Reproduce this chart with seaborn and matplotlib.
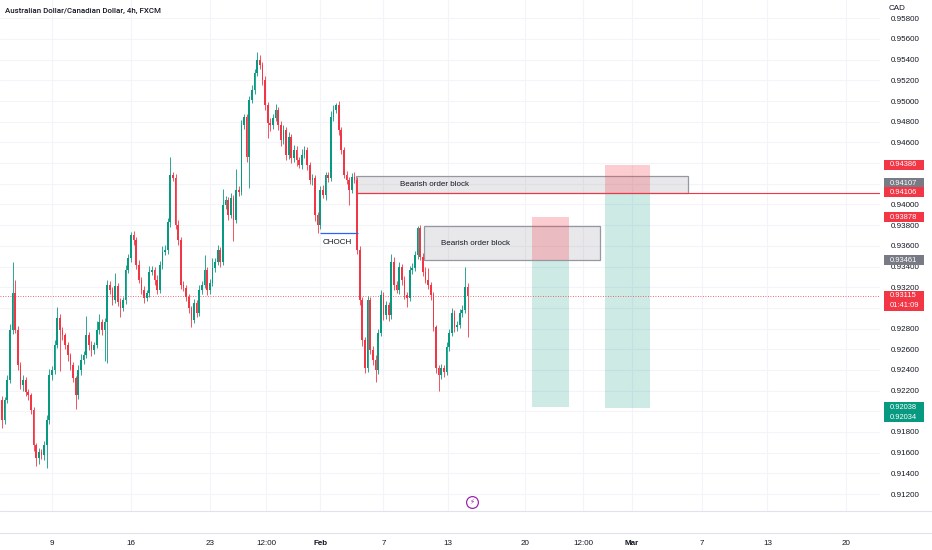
import numpy as np
import pandas as pd
import matplotlib
matplotlib.use("Agg")
import matplotlib.pyplot as plt
import seaborn as sns
from matplotlib.patches import Rectangle
from matplotlib.lines import Line2D
from matplotlib.transforms import IdentityTransform
from matplotlib.colors import to_rgba

# ---- data (AUD/CAD 4h) ----
first_open = 0.92109
closes = [
    0.91916, 0.92109, 0.92302, 0.92786, 0.93144, 0.92786, 0.92447, 0.92254, 0.92302, 0.92186,
    0.92157, 0.92012, 0.91674, 0.91548, 0.91606, 0.91577, 0.91674, 0.91916, 0.92351, 0.92399,
    0.92641, 0.92902, 0.92786, 0.92738, 0.92641, 0.92544, 0.92447, 0.92322, 0.92157, 0.92399,
    0.92496, 0.92544, 0.92738, 0.92641, 0.92593, 0.92641, 0.92786, 0.92863, 0.92786, 0.92863,
    0.93221, 0.93173, 0.93076, 0.93211, 0.93057, 0.92999, 0.93076, 0.93366, 0.93482, 0.93705,
    0.93656, 0.93414, 0.93269, 0.93173, 0.93095, 0.93144, 0.93347, 0.93366, 0.93269, 0.93173,
    0.93414, 0.93540, 0.93560, 0.93830, 0.94285, 0.94256, 0.93801, 0.93656, 0.93221, 0.93192,
    0.93105, 0.92999, 0.92883, 0.93047, 0.92950, 0.93173, 0.93221, 0.93366, 0.93173, 0.93240,
    0.93385, 0.93444, 0.93560, 0.93444, 0.93995, 0.94043, 0.93898, 0.94062, 0.93850, 0.94140,
    0.94120, 0.94768, 0.94846, 0.94459, 0.95010, 0.95107, 0.95271, 0.95397, 0.95348, 0.95203,
    0.94962, 0.94788, 0.94768, 0.94836, 0.94913, 0.94768, 0.94623, 0.94720, 0.94478, 0.94652,
    0.94449, 0.94527, 0.94430, 0.94381, 0.94478, 0.94527, 0.94381, 0.94236, 0.94256, 0.93898,
    0.93801, 0.94140, 0.94091, 0.94285, 0.94256, 0.94846, 0.94913, 0.94962, 0.94720, 0.94527,
    0.94285, 0.94236, 0.94140, 0.94265, 0.94236, 0.93560, 0.93076, 0.92689, 0.92419, 0.93076,
    0.92593, 0.92496, 0.92399, 0.92757, 0.93124, 0.92931, 0.93028, 0.92931, 0.93444, 0.93221,
    0.93173, 0.93395, 0.93269, 0.93124, 0.93095, 0.93366, 0.93385, 0.93511, 0.93772, 0.93492,
    0.93347, 0.93269, 0.93221, 0.93124, 0.92815, 0.92419, 0.92351, 0.92419, 0.92380, 0.92622,
    0.92757, 0.92950, 0.92815, 0.92834, 0.92950, 0.92979, 0.93202, 0.93115,
]
# wick lengths in pips above / below the body
up_wick = [
    4, 3, 5, 6, 30, 13, 4, 3, 5, 3,
    3, 2, 3, 2, 4, 3, 4, 5, 6, 4,
    5, 11, 4, 3, 2, 3, 2, 3, 2, 5,
    6, 4, 18, 3, 4, 3, 9, 8, 3, 4,
    5, 4, 3, 13, 3, 4, 3, 5, 4, 3,
    4, 3, 5, 3, 4, 3, 6, 4, 3, 5,
    4, 6, 5, 4, 17, 3, 4, 5, 3, 4,
    3, 3, 2, 4, 3, 5, 4, 15, 3, 4,
    10, 4, 5, 3, 15, 4, 3, 5, 3, 20,
    4, 5, 3, 3, 4, 5, 4, 8, 5, 3,
    4, 3, 5, 4, 6, 3, 4, 5, 3, 5,
    3, 5, 4, 3, 6, 4, 3, 3, 4, 3,
    3, 4, 5, 3, 3, 6, 5, 2, 4, 3,
    3, 4, 3, 4, 5, 3, 4, 3, 3, 4,
    3, 4, 5, 4, 5, 3, 4, 3, 8, 5,
    4, 5, 3, 4, 3, 4, 5, 4, 2, 3,
    4, 5, 12, 3, 3, 2, 3, 4, 3, 5,
    4, 5, 3, 4, 4, 5, 19, 4,
]
down_wick = [
    8, 4, 3, 3, 4, 3, 5, 4, 6, 4,
    5, 4, 6, 8, 6, 4, 5, 22, 4, 5,
    4, 3, 40, 5, 4, 6, 5, 4, 13, 4,
    5, 4, 3, 5, 6, 4, 3, 4, 5, 30,
    40, 4, 5, 3, 4, 9, 3, 4, 3, 4,
    5, 4, 3, 4, 5, 3, 4, 3, 5, 4,
    3, 4, 3, 4, 5, 3, 4, 5, 4, 3,
    4, 5, 7, 3, 4, 3, 4, 3, 5, 4,
    3, 4, 3, 5, 3, 4, 5, 3, 20, 3,
    4, 3, 4, 5, 30, 3, 4, 3, 4, 5,
    5, 15, 6, 4, 3, 5, 6, 4, 5, 4,
    5, 4, 6, 3, 4, 3, 5, 4, 5, 6,
    8, 4, 3, 5, 4, 3, 4, 3, 5, 4,
    3, 4, 15, 3, 3, 4, 5, 6, 5, 4,
    4, 5, 12, 4, 3, 5, 4, 6, 4, 5,
    3, 4, 5, 4, 9, 3, 4, 3, 4, 3,
    4, 3, 4, 5, 4, 5, 15, 4, 5, 3,
    4, 3, 5, 4, 3, 4, 3, 40,
]

tick_labels = ["9", "16", "23", "12:00", "Feb", "7", "13", "20", "12:00", "Mar", "7", "13", "20"]
tick_bars = [19, 49, 79, 100.5, 121, 145, 169.5, 199, 221, 239.5, 266, 291, 321]
# price scale levels covered by the price tags
hidden_levels = [0.944, 0.942, 0.930, 0.920]

# drawings: (bar from, bar to, price low, price high)
short1_stop = (201.5, 215.6, 0.93461, 0.93878)
short1_target = (201.5, 215.6, 0.92038, 0.93461)
short2_stop = (229.3, 246.4, 0.94106, 0.94386)
short2_target = (229.3, 246.4, 0.92034, 0.94106)
order_block1 = (134.6, 260.8, 0.94107, 0.94280)
order_block2 = (160.5, 227.4, 0.93461, 0.93792)
choch_level = 0.93724
choch_span = (120.9, 135.4)
last_price = 0.93115
ob_line = 0.94106

UP = "#089981"
DN = "#f23645"
GRAY = "#787b86"
TXT = "#131722"

opens = [first_open] + closes[:-1]
df = pd.DataFrame({"bar": np.arange(len(closes)), "open": opens, "close": closes,
                   "up": up_wick, "dn": down_wick})
df["high"] = df[["open", "close"]].max(axis=1) + df["up"] * 0.0001
df["low"] = df[["open", "close"]].min(axis=1) - df["dn"] * 0.0001

sns.set_theme(style="white")
plt.rcParams["font.family"] = ["Liberation Sans", "DejaVu Sans"]

fig = plt.figure(figsize=(9.32, 5.5), dpi=100)
ax = fig.add_axes([0, 39 / 550, 880 / 932, 511 / 550])

colors = np.where(df["close"] >= df["open"], UP, DN)
ax.vlines(df["bar"], df["low"], df["high"], colors=colors, lw=0.6, zorder=3)
body_lo = np.minimum(df["open"], df["close"])
body_h = np.maximum((df["close"] - df["open"]).abs(), 0.00003)
ax.bar(df["bar"], body_h, bottom=body_lo, width=0.65, color=colors, lw=0, zorder=4)


def zone(spec, color, alpha, z=1):
    x0, x1, y0, y1 = spec
    ax.add_patch(Rectangle((x0, y0), x1 - x0, y1 - y0, fc=to_rgba(color, alpha), lw=0, zorder=z))


zone(short1_target, UP, 0.2)
zone(short1_stop, DN, 0.25, z=2.5)
zone(short2_target, UP, 0.2)
zone(short2_stop, DN, 0.25, z=2.5)

for ob in (order_block1, order_block2):
    x0, x1, y0, y1 = ob
    ax.add_patch(Rectangle((x0, y0), x1 - x0, y1 - y0, fc=to_rgba(GRAY, 0.17),
                           ec="#9598a1", lw=0.9, zorder=2))
ax.text(151.3, (order_block1[2] + order_block1[3]) / 2, "Bearish order block",
        fontsize=5.8, color=TXT, va="center", ha="left", zorder=6)
ax.text(166.9, (order_block2[2] + order_block2[3]) / 2, "Bearish order block",
        fontsize=5.8, color=TXT, va="center", ha="left", zorder=6)

ax.hlines(choch_level, *choch_span, color="#2962ff", lw=0.9, zorder=5)
ax.text(sum(choch_span) / 2 - 0.8, choch_level - 0.00055, "CHOCH", fontsize=5.8,
        color=TXT, ha="center", va="top", zorder=6)

ax.hlines(ob_line, order_block1[0], 333.8, color=DN, lw=0.8, zorder=5)
ax.axhline(last_price, color=DN, lw=0.6, ls=(0, (1, 2)), zorder=2)

# event marker on the time line
ax.plot([178.7], [0.91127], marker="o", ms=8.5, mfc="white", mec="#9c27b0", mew=0.9,
        zorder=6, clip_on=False)
ax.text(178.7, 0.91127, "\u26a1", fontsize=5, color="#9c27b0", ha="center", va="center",
        zorder=7, family=["DejaVu Sans"])

ax.set_xlim(-0.76, 333.8)
ax.set_ylim(0.91036, 0.95977)

yt = np.arange(0.912, 0.9581, 0.002)
ax.yaxis.tick_right()
ax.set_yticks(yt)
ax.set_yticklabels(["" if np.isclose(v, hidden_levels).any() else f"{v:.5f}" for v in yt])
ax.tick_params(axis="y", length=0, pad=8, labelsize=5.8, labelcolor=TXT)
ax.set_xticks(tick_bars, tick_labels)
ax.tick_params(axis="x", length=0, pad=21, labelsize=5.8, labelcolor=TXT)
for lab in ax.get_xticklabels():
    if lab.get_text() in ("Feb", "Mar"):
        lab.set_fontweight("bold")
ax.grid(True, color="#f2f4f9", lw=0.8)
ax.set_axisbelow(True)
for s in ax.spines.values():
    s.set_visible(False)

for ypx in (511, 533):
    fig.add_artist(Line2D([0, 1], [1 - ypx / 550] * 2, transform=fig.transFigure,
                          color="#e0e3eb", lw=0.8))

# price tags on the right scale
ident = IdentityTransform()
ROW = 10.0


def tag(price, lines, color, shift_px=0):
    yd = ax.transData.transform((0, price))[1] + shift_px
    h = ROW * len(lines)
    top = yd + ROW / 2
    fig.add_artist(Rectangle((884, top - h), 40, h, fc=color, ec="none",
                             transform=ident, zorder=10))
    for k, s in enumerate(lines):
        fig.text(890, top - ROW / 2 - ROW * k, s, fontsize=5.4, color="white",
                 va="center", ha="left", transform=ident, zorder=11)


tag(0.94386, ["0.94386"], DN)
tag(0.94107, ["0.94107"], GRAY, shift_px=10)
tag(0.94106, ["0.94106"], DN, shift_px=1)
tag(0.93878, ["0.93878"], DN)
tag(0.93461, ["0.93461"], GRAY)
tag(last_price, [f"{last_price:.5f}", "01:41:09"], DN)
tag(0.92038, ["0.92038", "0.92034"], UP)

fig.add_artist(Rectangle((880 / 932, 1 - 15 / 550), 52 / 932, 15 / 550, fc="white",
                         ec="none", transform=fig.transFigure, zorder=9))
fig.text(889 / 932, 1 - 9 / 550, "CAD", fontsize=5.8, color=TXT, va="center", zorder=10)
fig.text(5 / 932, 1 - 11 / 550, "Australian Dollar/Canadian Dollar, 4h, FXCM",
         fontsize=5.7, color=TXT, va="center", family=["Roboto", "DejaVu Sans"],
         fontweight="medium")

fig.savefig("out.png", dpi=100)
